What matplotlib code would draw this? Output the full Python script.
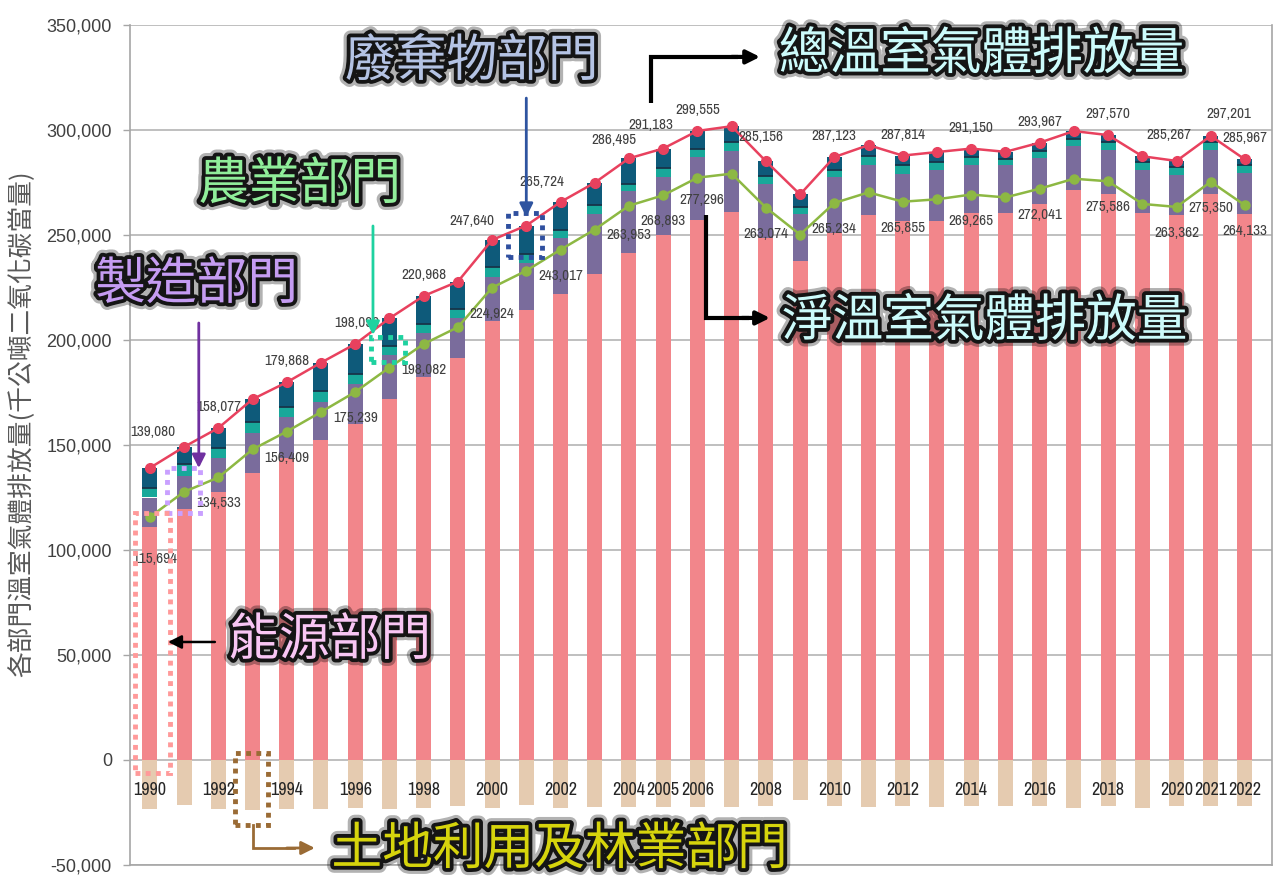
import numpy as np
import matplotlib
matplotlib.use("Agg")
import matplotlib.pyplot as plt
from matplotlib import patheffects as pe
from matplotlib import font_manager as fm
from matplotlib.textpath import TextToPath
from matplotlib.patches import Rectangle
from matplotlib.ticker import FuncFormatter

# ---- data (千公噸CO2e) ----
years = np.arange(1990, 2023)

energy = [111000, 119700, 127400, 136800, 143700, 152600, 160200, 172000, 182400, 191500,
          209000, 214200, 222000, 231500, 241600, 249800, 257300, 260900, 248700, 237400,
          251000, 259300, 256500, 256500, 260700, 260700, 264800, 271400, 269300, 260700,
          259300, 269300, 259900]
industry = [14000, 15300, 16400, 18700, 19700, 17800, 18800, 21000, 20900, 19100,
            20900, 22700, 26700, 28500, 29300, 27800, 29700, 28900, 25500, 22500,
            26600, 24100, 22700, 24600, 22400, 22700, 21900, 21100, 21100, 20400,
            19300, 21100, 19700]
agri = [4700, 5800, 4700, 5500, 4600, 5200, 4700, 4300, 4300, 4000,
        4700, 3900, 3900, 4300, 3600, 4200, 3900, 4600, 3800, 3600,
        3500, 4400, 3900, 3600, 3900, 2800, 3400, 3400, 4000, 3600,
        4000, 4000, 3800]
total = [139080, 149100, 158077, 171800, 179868, 189200, 198090, 210300, 220968, 227800,
         247640, 254500, 265724, 274900, 286495, 291183, 299555, 301800, 285156, 269300,
         287123, 292800, 287814, 289500, 291150, 289600, 293967, 299500, 297570, 287500,
         285267, 297201, 285967]
net = [115694, 127700, 134533, 147900, 156409, 165700, 175239, 186900, 198082, 206100,
       224924, 233000, 243017, 252600, 263953, 268893, 277296, 279200, 263074, 250200,
       265234, 270300, 265855, 267000, 269265, 267900, 272041, 276800, 275586, 264800,
       263362, 275350, 264133]
label_years = [1990, 1992, 1994, 1996, 1998, 2000, 2002, 2004, 2005, 2006, 2008,
               2010, 2012, 2014, 2016, 2018, 2020, 2021, 2022]

energy = np.array(energy)
industry = np.array(industry)
agri = np.array(agri)
total = np.array(total)
net = np.array(net)
waste = total - energy - industry - agri
lulucf = net - total

# narrow, regular-weight sans for the small numbers (fallback: Liberation Sans)
def pick_narrow():
    best = None
    for f in fm.fontManager.ttflist:
        nm = f.name.lower()
        narrow = 'narrow' in nm or 'condensed' in nm or f.stretch in ('condensed', 'semi-condensed')
        if not narrow or f.style != 'normal':
            continue
        wt = f.weight if isinstance(f.weight, int) else {'normal': 400, 'regular': 400}.get(f.weight, 700)
        if wt != 400:
            continue
        score = 0 if 'narrow' in nm else 1
        if best is None or score < best[0]:
            best = (score, f.fname)
    if best:
        return fm.FontProperties(fname=best[1])
    return fm.FontProperties(family=['Liberation Sans', 'DejaVu Sans'])


def fit(fp, txt, width_px, max_pt):
    p = fp.copy(); p.set_size(10)
    wpt = TextToPath().get_text_width_height_descent(txt, p, ismath=False)[0]
    p.set_size(min(max_pt, 10 * width_px * 0.72 / wpt))
    return p


base_fp = pick_narrow()
lab_fp = fit(base_fp, '139,080', 45, 12)
tick_fp = fit(base_fp, '1990', 33, 14)

# ---- figure ----
fig = plt.figure(figsize=(12.77, 8.77), dpi=100)
ax = fig.add_axes([130/1277, 1-865/877, 1142/1277, 840/877])

cjk = ['Noto Sans CJK TC', 'DejaVu Sans']

w = 0.44
b1 = energy
b2 = b1 + industry
b3 = b2 + agri
ax.bar(years, energy, w, color='#F2868B', zorder=2)
ax.bar(years, industry, w, bottom=b1, color='#7A6C9C', zorder=2)
ax.bar(years, agri, w, bottom=b2, color='#18A89A', zorder=2)
ax.bar(years, waste, w, bottom=b3, color='#0E5A7A', zorder=2)
ax.hlines(b3, years - w/2, years + w/2, color='#17344A', lw=1.3, zorder=2.5)
ax.bar(years, lulucf, w, color='#E5CBB0', zorder=2)

ax.plot(years, total, '-o', color='#E8415E', lw=1.8, ms=7, zorder=4)
ax.plot(years, net, '-o', color='#8DB843', lw=1.8, ms=6.5, zorder=4)

# data labels
tot_off = {1990: (3, 36), 1996: (2, 21), 2000: (-20, 19), 2002: (-19, 20), 2004: (-15, 18),
           2005: (-12, 24), 2008: (-5, 24), 2020: (-8, 26), 2021: (18, 22)}
net_off = {1990: (5, -42), 2004: (0, -29), 2006: (4, -22)}
for i, y in enumerate(years):
    if y not in label_years:
        continue
    dx, dy = tot_off.get(y, (0, 21))
    ax.annotate(f'{total[i]:,}', (y, total[i]), xytext=(dx, dy), textcoords='offset pixels',
                ha='center', va='center', fontproperties=lab_fp, color='#404040', zorder=6)
    dx, dy = net_off.get(y, (0, -26))
    ax.annotate(f'{net[i]:,}', (y, net[i]), xytext=(dx, dy), textcoords='offset pixels',
                ha='center', va='center', fontproperties=lab_fp, color='#404040', zorder=6)

for y in label_years:
    ax.text(y, -14500, str(y), ha='center', va='center', fontproperties=tick_fp,
            color='#262626', zorder=6)

# axes styling
ax.set_xlim(1989.42, 2022.79)
ax.set_ylim(-50000, 350000)
ax.set_yticks(np.arange(-50000, 350001, 50000))
ax.yaxis.set_major_formatter(FuncFormatter(lambda v, p: f'{v:,.0f}'))
ax.set_xticks([])
ax.tick_params(axis='y', length=5, width=1, color='#A6A6A6', pad=8, labelsize=13,
               labelcolor='#404040')
for t in ax.get_yticklabels():
    t.set_family(['Liberation Sans', 'DejaVu Sans'])
ax.yaxis.grid(True, color='#BFBFBF', lw=1.4)
ax.set_axisbelow(True)
for s in ax.spines.values():
    s.set_color('#A6A6A6')
    s.set_linewidth(1.2)
ax.spines['top'].set_visible(False)
ax.set_ylabel('各部門溫室氣體排放量(千公噸二氧化碳當量)', family=cjk, fontsize=18.5,
              color='#595959')
ax.yaxis.set_label_coords(-0.083, 0.525)

# ---- callouts ----
glow = [pe.Stroke(linewidth=10, foreground='#000000', alpha=0.3),
        pe.Stroke(linewidth=5.5, foreground='#151515'), pe.Normal()]
big = dict(fontsize=36.5, family=cjk, ha='center', va='center', path_effects=glow,
           zorder=10, clip_on=False)

ax.text(1999.41, 332400, '廢棄物部門', color='#B4C3E4', **big)
ax.text(2014.31, 335700, '總溫室氣體排放量', color='#CCFBFB', **big)
ax.text(1994.38, 273800, '農業部門', color='#90EE9A', **big)
ax.text(1991.37, 226200, '製造部門', color='#C59CF2', **big)
ax.text(2014.40, 208600, '淨溫室氣體排放量', color='#CCFBFB', **big)
ax.text(1995.26, 56700, '能源部門', color='#F9C6F4', **big)
ax.text(2001.98, -42900, '土地利用及林業部門', color='#D6D40C', **big)


def arrow(p0, p1, color, lw):
    ax.annotate('', xy=p1, xytext=p0, zorder=9, annotation_clip=False,
                arrowprops=dict(arrowstyle='-|>', color=color, lw=lw,
                                mutation_scale=20, shrinkA=0, shrinkB=0))


def box(x0, x1, y0, y1, color):
    ax.add_patch(Rectangle((x0, y0), x1 - x0, y1 - y0, fill=False, ec=color, lw=3.5,
                           ls=(0, (1, 1.1)), zorder=8, clip_on=False))


# waste
arrow((2001, 315200), (2001, 258600), '#2E54A0', 2)
box(2000.46, 2001.46, 239500, 260500, '#2F4F9F')
# total
ax.plot([2004.64, 2004.64, 2007.2], [312900, 334800, 334800], color='black', lw=3,
        zorder=9, solid_capstyle='butt', solid_joinstyle='miter')
arrow((2007.0, 334800), (2007.83, 334800), 'black', 3)
# agriculture
arrow((1996.52, 254300), (1996.52, 202400), '#1ED2A0', 2)
box(1996.46, 1997.45, 189500, 201400, '#1ED2A0')
# industry
arrow((1991.43, 208100), (1991.43, 139000), '#7030A0', 2)
box(1990.5, 1991.46, 117600, 139000, '#C9A0FF')
# net
ax.plot([2006.25, 2006.25, 2007.5], [259500, 210500, 210500], color='black', lw=3,
        zorder=9, solid_capstyle='butt', solid_joinstyle='miter')
arrow((2007.3, 210500), (2008.12, 210500), 'black', 3)
# energy
arrow((1991.9, 56200), (1990.53, 56200), 'black', 1.8)
box(1989.56, 1990.58, -6200, 117600, '#FF9A9A')
# lulucf
ax.plot([1993.01, 1993.01, 1994.2], [-31000, -41900, -41900], color='#9A6B35', lw=2,
        zorder=9, clip_on=False, solid_joinstyle='miter')
arrow((1994.0, -41900), (1994.82, -41900), '#9A6B35', 2)
box(1992.48, 1993.45, -31000, 3300, '#9A6B35')

fig.savefig('out.png', dpi=100)
